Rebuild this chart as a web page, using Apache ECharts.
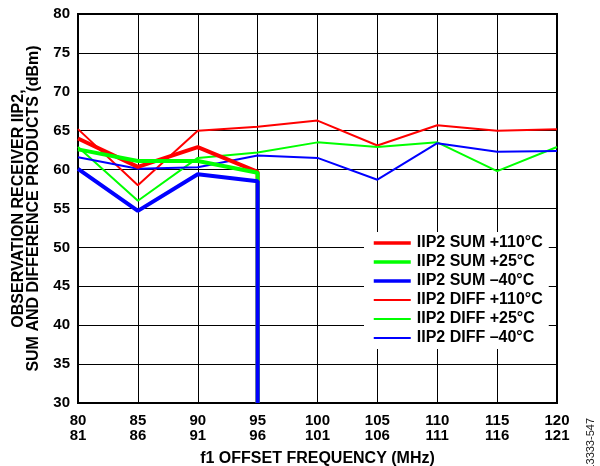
<!DOCTYPE html>
<html>
<head>
<meta charset="utf-8">
<script src="https://cdn.jsdelivr.net/npm/echarts@6/dist/echarts.min.js"></script>
<style>html,body{margin:0;padding:0;background:#fff}#c{width:600px;height:466px}</style>
</head>
<body>
<div id="c"></div>
<script>
// Tick labels (two-line x labels)
var freqTop = [80, 85, 90, 95, 100, 105, 110, 115, 120];
var freqBottom = [81, 86, 91, 96, 101, 106, 111, 116, 121];

// SUM series x positions (drop to axis bottom at 95)
var sumX = [80, 85, 90, 95, 95];
var sum110 = [64.0, 60.35, 62.9, 59.7, 30];
var sum25  = [62.6, 61.1, 61.1, 59.6, 30];
var sumM40 = [60.1, 54.7, 59.4, 58.5, 30];

// DIFF series
var diffX = [80, 85, 90, 95, 100, 105, 110, 115, 120];
var diff110 = [65.2, 58.0, 65.0, 65.5, 66.3, 63.1, 65.7, 65.0, 65.2];
var diff25  = [62.9, 56.0, 61.5, 62.2, 63.5, 62.9, 63.5, 59.8, 62.9];
var diffM40 = [61.6, 60.1, 60.3, 61.8, 61.5, 58.7, 63.4, 62.3, 62.4];

var names = ['IIP2 SUM +110°C', 'IIP2 SUM +25°C', 'IIP2 SUM –40°C',
             'IIP2 DIFF +110°C', 'IIP2 DIFF +25°C', 'IIP2 DIFF –40°C'];

function pairs(xs, ys) { return xs.map(function (x, i) { return [x, ys[i]]; }); }

var FONT = '"Liberation Sans", Arial, sans-serif';
var chart = echarts.init(document.getElementById('c'), null, { renderer: 'canvas' });

function mk(name, xs, ys, color, w, z) {
  return {
    name: name, type: 'line', data: pairs(xs, ys), symbol: 'none', z: z,
    lineStyle: { color: color, width: w }, itemStyle: { color: color },
    animation: false
  };
}
var hidden = { color: 'rgba(0,0,0,0)', borderWidth: 0, opacity: 0 };

chart.setOption({
  animation: false,
  grid: { left: 78, right: 43, top: 14, bottom: 63, show: true, borderColor: '#000', borderWidth: 2,
          containLabel: false, outerBoundsMode: 'none' },
  xAxis: {
    type: 'value', min: 80, max: 120, interval: 5,
    name: 'f1 OFFSET FREQUENCY (MHz)', nameLocation: 'middle', nameGap: 48,
    nameTextStyle: { fontFamily: FONT, fontWeight: 'bold', fontSize: 16, color: '#000' },
    axisLine: { lineStyle: { color: '#000', width: 2 } },
    axisTick: { show: false },
    axisLabel: {
      fontFamily: FONT, fontWeight: 'bold', fontSize: 15, color: '#000', margin: 10, lineHeight: 15,
      formatter: function (v) { var i = freqTop.indexOf(v); return i < 0 ? '' : freqTop[i] + '\n' + freqBottom[i]; }
    },
    splitLine: { show: true, lineStyle: { color: '#000', width: 1 } }
  },
  yAxis: {
    type: 'value', min: 30, max: 80, interval: 5,
    name: 'OBSERVATION RECEIVER IIP2,\nSUM AND DIFFERENCE PRODUCTS (dBm)',
    nameLocation: 'middle', nameRotate: 90, nameGap: 37,
    nameTextStyle: { fontFamily: FONT, fontWeight: 'bold', fontSize: 16, color: '#000', lineHeight: 15 },
    axisLine: { show: true, lineStyle: { color: '#000', width: 2 } },
    axisTick: { show: false },
    axisLabel: { fontFamily: FONT, fontWeight: 'bold', fontSize: 15, color: '#000', margin: 8 },
    splitLine: { show: true, lineStyle: { color: '#000', width: 1 } }
  },
  legend: {
    orient: 'vertical', left: 364, top: 232, padding: [3, 6, 3, 8],
    backgroundColor: '#fff', itemWidth: 37, itemHeight: 14, itemGap: 3,
    itemStyle: hidden,
    textStyle: { fontFamily: FONT, fontWeight: 'bold', fontSize: 16, color: '#000', padding: [0, 0, 0, 1] },
    data: [
      { name: names[0], lineStyle: { width: 3.5 }, itemStyle: hidden },
      { name: names[1], lineStyle: { width: 3.5 }, itemStyle: hidden },
      { name: names[2], lineStyle: { width: 3.5 }, itemStyle: hidden },
      { name: names[3], lineStyle: { width: 2 }, itemStyle: hidden },
      { name: names[4], lineStyle: { width: 2 }, itemStyle: hidden },
      { name: names[5], lineStyle: { width: 2 }, itemStyle: hidden }
    ]
  },
  series: [
    mk(names[0], sumX, sum110, '#ff0000', 4, 3),
    mk(names[1], sumX, sum25, '#00ff00', 4, 4),
    mk(names[2], sumX, sumM40, '#0000ff', 4, 5),
    mk(names[3], diffX, diff110, '#ff0000', 2, 2),
    mk(names[4], diffX, diff25, '#00ff00', 2, 2),
    mk(names[5], diffX, diffM40, '#0000ff', 2, 2)
  ],
  graphic: [{
    type: 'text', x: 591, y: 418, rotation: Math.PI / 2,
    style: { text: '13333-547', fontFamily: '"Liberation Sans Narrow", "Liberation Sans", Arial, sans-serif', fontSize: 11, fill: '#222', align: 'right', verticalAlign: 'middle' }
  }]
});
</script>
</body>
</html>
